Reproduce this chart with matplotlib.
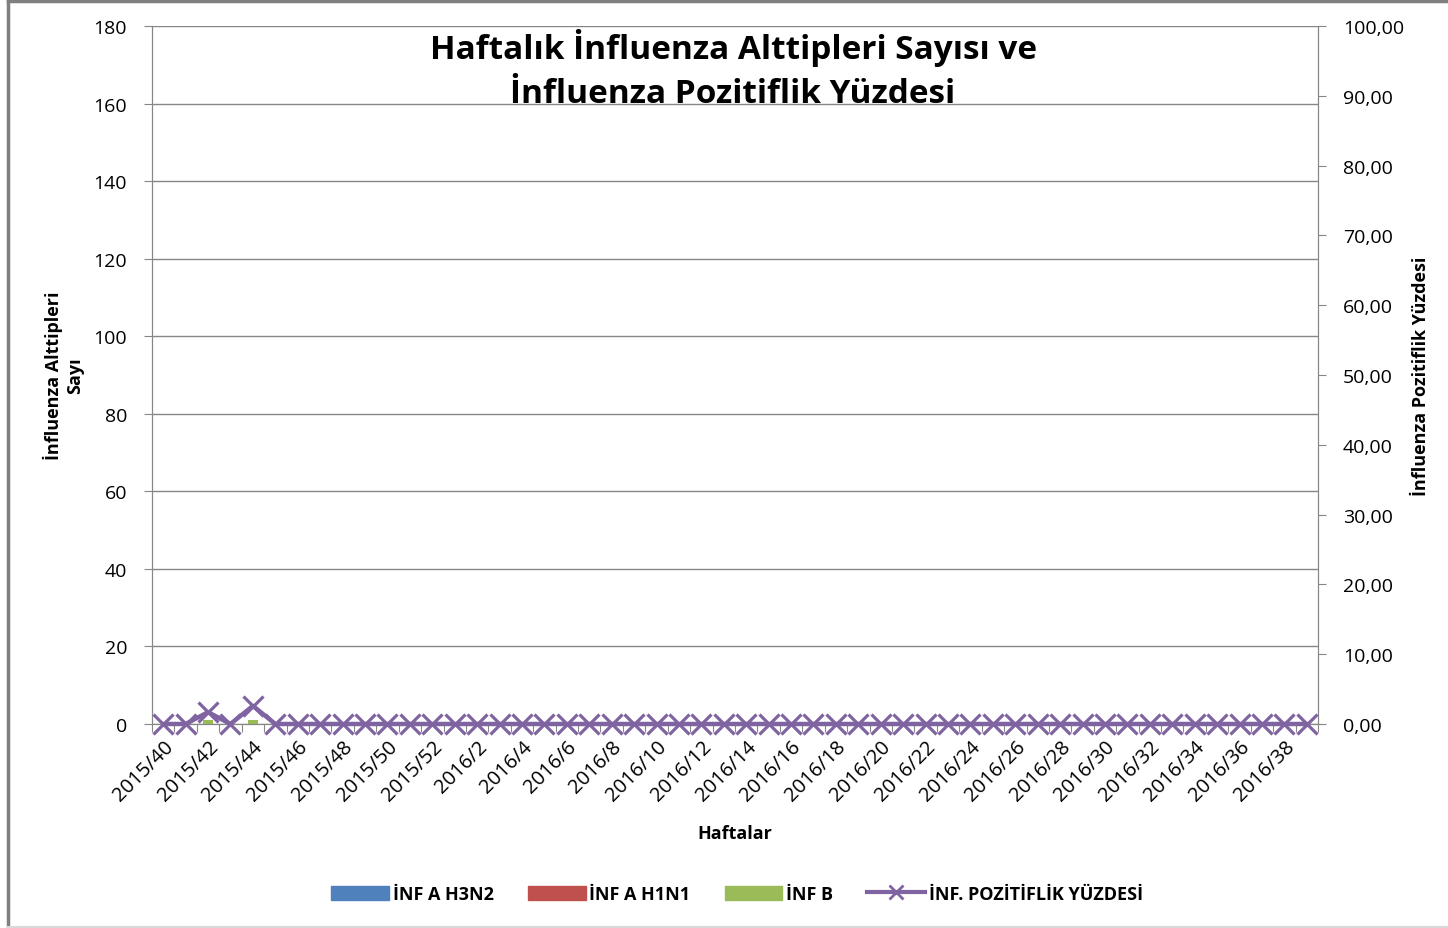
import matplotlib
matplotlib.use("Agg")
import matplotlib.pyplot as plt
from matplotlib.lines import Line2D
from matplotlib.patches import Patch

weeks = [f"2015/{w}" for w in range(40, 53)] + [f"2016/{w}" for w in range(1, 40)]
h3n2 = [0] * 52
h1n1 = [0] * 52
inf_b = [0, 0, 1, 0, 1] + [0] * 47
positivity = [0, 0, 1.7, 0, 2.6] + [0.0] * 47

plt.rcParams['font.family'] = ['Open Sans', 'DejaVu Sans']

fig = plt.figure(figsize=(14.48, 9.29), dpi=100)
W, H = 1448, 929
ax = fig.add_axes([152 / W, 1 - 725 / H, (1318 - 152) / W, (725 - 27) / H])
ax2 = ax.twinx()

x = list(range(len(weeks)))
ax.bar(x, h3n2, width=0.45, color='#4f81bd', zorder=3)
ax.bar(x, h1n1, width=0.45, bottom=h3n2, color='#c0504d', zorder=3)
ax.bar(x, inf_b, width=0.45, bottom=[a + b for a, b in zip(h3n2, h1n1)], color='#9bbb59', zorder=3)

ax2.plot(x, positivity, color='#8064a2', lw=3.2, marker='x', markersize=14,
         markeredgewidth=2.3, zorder=4, clip_on=False)

ax.set_xlim(-0.5, len(weeks) - 0.5)
ax.set_ylim(0, 180)
ax.set_yticks(range(0, 181, 20))
ax2.set_ylim(0, 100)
ax2.set_yticks(range(0, 101, 10))
ax2.set_yticklabels([f"{v},00" for v in range(0, 101, 10)])

ax.yaxis.grid(True, color='#868686', lw=1, zorder=0)
ax.set_axisbelow(True)

ax.set_xticks([i - 0.5 for i in range(len(weeks) + 1)], minor=False)
ax.set_xticklabels([])
ax.set_xticks(x, minor=True)
ax.set_xticklabels([w if i % 2 == 0 else '' for i, w in enumerate(weeks)], minor=True,
                   rotation=45, ha='right', va='top', rotation_mode='anchor', fontsize=14.5)
ax.tick_params(axis='x', which='major', length=6, color='#868686', direction='out')
ax.tick_params(axis='x', which='minor', length=0, pad=9)
ax.tick_params(axis='y', length=6, color='#868686', labelsize=14, pad=12)
ax2.tick_params(axis='y', length=6, color='#868686', labelsize=14, pad=12)

for a in (ax, ax2):
    for s in a.spines.values():
        s.set_color('#868686')
    a.spines['top'].set_visible(False)

ax.set_ylabel("İnfluenza Alttipleri\nSayı", fontsize=13, fontweight='bold', labelpad=7)
ax2.set_ylabel("İnfluenza Pozitiflik Yüzdesi", fontsize=13, fontweight='bold', labelpad=6)
fig.text(735 / W, 1 - 834 / H, "Haftalar", ha='center', va='center', fontsize=13, fontweight='bold')

fig.text(733 / W, 1 - 70 / H, "Haftalık İnfluenza Alttipleri Sayısı ve\nİnfluenza Pozitiflik Yüzdesi",
         ha='center', va='center', fontsize=24, fontweight='bold', linespacing=1.45)

handles = [Patch(color='#4f81bd'), Patch(color='#c0504d'), Patch(color='#9bbb59'),
           Line2D([0], [0], color='#8064a2', lw=3, marker='x', markersize=10, markeredgewidth=2)]
labels = ["İNF A H3N2", "İNF A H1N1", "İNF B", "İNF. POZİTİFLİK YÜZDESİ"]
fig.legend(handles, labels, loc='center', bbox_to_anchor=(737 / W, 1 - 895 / H), ncol=4,
           frameon=False, handlelength=3.2, handleheight=0.85, columnspacing=1.9,
           handletextpad=0.2, prop={'weight': 'bold', 'size': 13})

# outer chart border
fig.add_artist(Line2D([8 / W, 8 / W], [0, 1 - 2 / H], color='#7f7f7f', lw=2.5, transform=fig.transFigure))
fig.add_artist(Line2D([8 / W, 1], [1 - 2 / H, 1 - 2 / H], color='#7f7f7f', lw=2.5, transform=fig.transFigure))
fig.add_artist(Line2D([8 / W, 1], [1 - 928 / H, 1 - 928 / H], color='#d9d9d9', lw=1.5, transform=fig.transFigure))

fig.savefig("out.png", dpi=100)
